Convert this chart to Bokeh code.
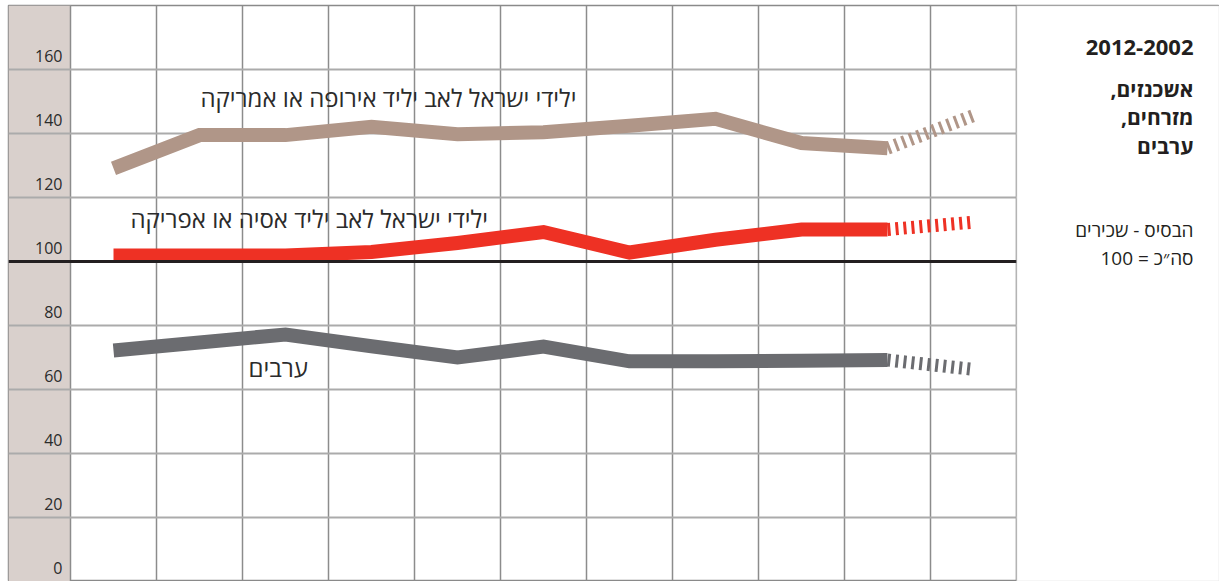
from bokeh.plotting import figure
from bokeh.models import Range1d, FixedTicker, BoxAnnotation, Span, Label, ColumnDataSource
from bokeh.core.properties import value
from bokeh.embed import file_html
from bokeh.resources import INLINE

# ---- data ----
years = [2002, 2003, 2004, 2005, 2006, 2007, 2008, 2009, 2010, 2011, 2012]
ashkenazi = [129.1, 139.5, 139.5, 142.1, 139.8, 140.4, 142.4, 144.6, 137.0, 135.4, 145.6]
mizrahi = [101.9, 101.9, 101.9, 103.0, 105.8, 109.2, 102.8, 106.8, 110.0, 110.0, 112.3]
arabs = [72.2, 74.7, 77.2, 73.5, 70.0, 73.4, 68.8, 68.8, 69.0, 69.2, 66.3]
y_ticks = [0, 20, 40, 60, 80, 100, 120, 140, 160]
y_tick_labels = ["0", "20", "40", "60", "80", "100", "120", "140", "160"]

label_ashkenazi = "ילידי ישראל לאב יליד אירופה או אמריקה"
label_mizrahi = "ילידי ישראל לאב יליד אסיה או אפריקה"
label_arabs = "ערבים"
title_years = "2012-2002"
title_lines = ["אשכנזים,\u200f", "מזרחים,\u200f", "ערבים"]
note_lines = ["הבסיס - שכירים", "\u200fסה״כ = 100"]

C_BROWN = "#b09688"
C_RED = "#ee3124"
C_GRAY = "#6b6c70"
FONT = "Open Sans"

W, H = 1219, 581
LEFT, TOP = 8, 5
PX = 86.0            # pixels per year
PY = (H - TOP) / 180  # pixels per unit
x0 = 2002 - (113 - LEFT) / PX
x1 = x0 + (W - LEFT) / PX

p = figure(width=W, height=H, x_range=Range1d(x0, x1), y_range=Range1d(0, 180),
           output_backend="svg", toolbar_location=None,
           min_border_left=LEFT, min_border_top=TOP, min_border_right=0, min_border_bottom=0)
p.xaxis.visible = False
p.yaxis.visible = False
p.background_fill_color = "white"
p.border_fill_color = "white"
p.outline_line_color = "#8a8a8a"
p.outline_line_width = 1.5

p.xgrid.ticker = FixedTicker(ticks=[y - 0.5 for y in years] + [years[-1] + 0.5])
p.xgrid.grid_line_color = "#8c8c8c"
p.xgrid.grid_line_width = 1.5
p.ygrid.ticker = FixedTicker(ticks=y_ticks + [180])
p.ygrid.grid_line_color = "#ababab"
p.ygrid.grid_line_width = 1.8

# left shaded strip
p.add_layout(BoxAnnotation(right=years[0] - 0.5, fill_color="#d9d0cc", fill_alpha=1.0,
                           line_alpha=0, level="image"))

# tick labels inside the strip, centred 14px above their grid line
src = ColumnDataSource(dict(x=[years[0] - 0.5] * len(y_ticks),
                            y=[t + 14 / PY for t in y_ticks], t=y_tick_labels))
p.text(x="x", y="y", text="t", source=src, text_align="right", text_baseline="middle",
       x_offset=-8, text_font=value(FONT), text_font_size="16px",
       text_color="#2b2b2b")

# baseline 100
p.add_layout(Span(location=100, dimension="width", line_color="#231f20", line_width=3))

# lines
for vals, col in [(ashkenazi, C_BROWN), (mizrahi, C_RED), (arabs, C_GRAY)]:
    p.line(years[:10], vals[:10], line_width=14, line_color=col,
           line_join="miter", line_cap="butt")
    p.line(years[9:], vals[9:], line_width=13, line_color=col,
           line_dash="3 5", line_cap="butt")

# right panel
p.add_layout(BoxAnnotation(left=years[-1] + 0.5, fill_color="white", fill_alpha=1.0,
                           line_color="#8a8a8a", line_width=1.5))

def lab(x, y, text, size="18px", style="normal", color="#2b2b2b", align="right"):
    p.add_layout(Label(x=x, y=y, text=text, text_align=align, text_baseline="middle",
                       text_font=FONT, text_font_size=size, text_font_style=style,
                       text_color=color))

def px_to_year(px):
    return 2002 + (px - 113) / PX

# series labels (left edges)
lab(px_to_year(200), 151.25, label_ashkenazi, size="24px", align="left")
lab(px_to_year(130), 113.4, label_mizrahi, size="24px", align="left")
lab(px_to_year(248), 66.9, label_arabs, size="24px", align="left")

px_right = px_to_year(1193)
lab(px_right, 166.9, title_years, size="22px", style="bold", color="#231f20")
for yv, t in zip([153.8, 145.3, 136.2], title_lines):
    lab(px_right, yv, t, size="21px", style="bold", color="#231f20")
for yv, t in zip([109.7, 101.25], note_lines):
    lab(px_right, yv, t, size="19px", color="#231f20")

open("out.html", "w").write(file_html(p, INLINE))
